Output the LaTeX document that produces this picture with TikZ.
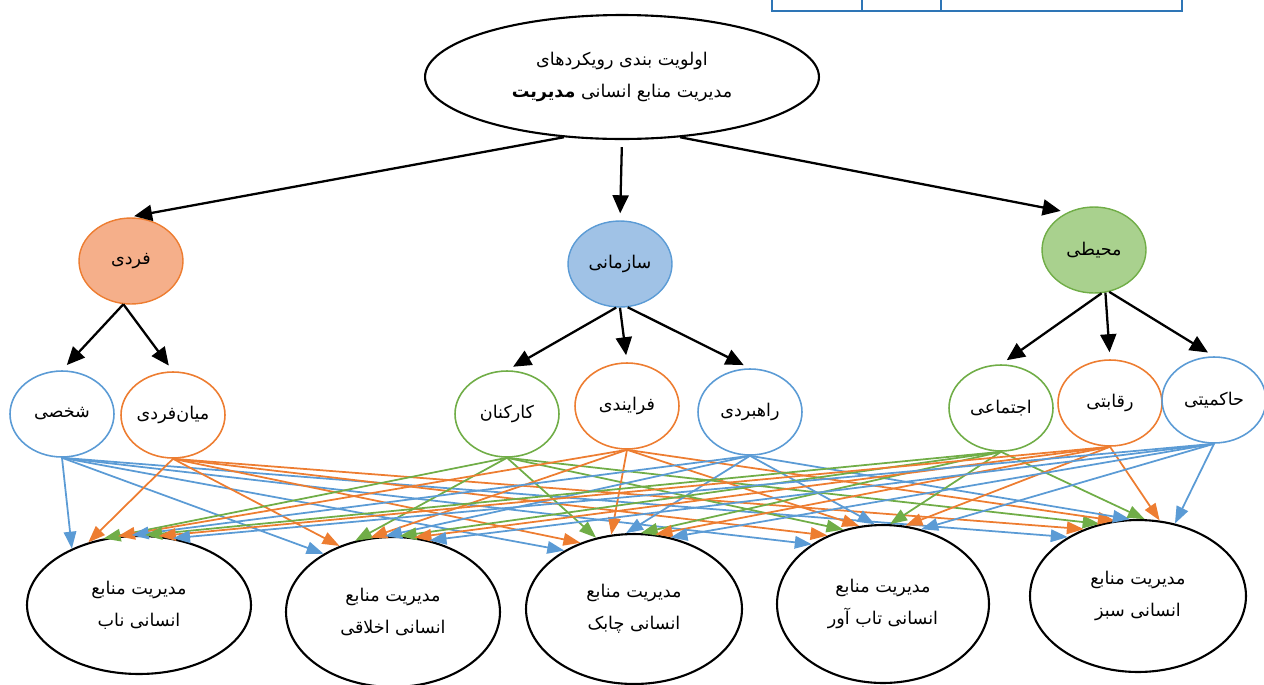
\documentclass[tikz,border=0pt]{standalone}
\usepackage{fontspec}
\newfontfamily\arabicfont[Script=Arabic]{DejaVu Sans}
\TeXXeTstate=1
\usepackage{tikz}
\usetikzlibrary{shapes.geometric,arrows.meta}
\definecolor{blu}{RGB}{91,155,213}
\definecolor{org}{RGB}{237,125,49}
\definecolor{grn}{RGB}{112,173,71}
\definecolor{tblblue}{RGB}{46,117,182}
\definecolor{orgfill}{RGB}{245,175,138}
\definecolor{blufill}{RGB}{160,194,230}
\definecolor{grnfill}{RGB}{169,209,142}
\newcommand{\fatxt}[1]{\beginR#1\endR}

\begin{document}
\begin{tikzpicture}[x=0.02cm, y=-0.02cm, align=center,
    font=\arabicfont\fontsize{10}{18}\selectfont,
    >={Triangle[length=0.36cm,width=0.32cm]},
    topbox/.style={ellipse, draw, line width=1.2pt, inner sep=0pt,
        minimum width=7.88cm, minimum height=2.48cm},
    catbox/.style 2 args={ellipse, draw=#1, fill=#2, line width=0.8pt, inner sep=0pt,
        minimum width=2.08cm, minimum height=1.72cm},
    leafbox/.style={ellipse, draw=#1, line width=0.9pt, inner sep=0pt,
        minimum width=2.08cm, minimum height=1.72cm},
    hrmbox/.style 2 args={ellipse, draw, line width=1.2pt, inner sep=0pt,
        minimum width=#1, minimum height=#2},
    branch/.style={->, line width=1.3pt, shorten >=4pt},
    link/.style={-{Triangle[length=0.34cm,width=0.25cm]}, line width=1pt},
    tbl/.style={draw=tblblue, line width=1.1pt}]
    \useasboundingbox (0,0) rectangle (1264,684);

    \draw[tbl] (772,0) |- (1182,11) -- (1182,0);
    \draw[tbl] (862,0) -- (862,11);
    \draw[tbl] (941,0) -- (941,11);

    \node[topbox] at (622,77) (top)
        {\fatxt{اولویت بندی رویکردهای} \\ \fatxt{مدیریت منابع انسانی {\bfseries مدیریت}}};

    \node[catbox={org}{orgfill}] at (131,261) (fardi) {\fatxt{فردی}};
    \node[catbox={blu}{blufill}] at (620,264) (sazmani) {\fatxt{سازمانی}};
    \node[catbox={grn}{grnfill}] at (1094,250) (mohiti) {\fatxt{محیطی}};

    \node[leafbox=blu] at (62,414) (shakhsi) {\fatxt{شخصی}};
    \node[leafbox=org] at (173,415) (mianfardi) {\fatxt{میان^^^^200cفردی}};
    \node[leafbox=grn] at (507,414) (karkonan) {\fatxt{کارکنان}};
    \node[leafbox=org] at (627,406) (farayandi) {\fatxt{فرایندی}};
    \node[leafbox=blu] at (750,412) (rahbordi) {\fatxt{راهبردی}};
    \node[leafbox=grn] at (1001,408) (ejtemai) {\fatxt{اجتماعی}};
    \node[leafbox=org] at (1110,403) (reqabati) {\fatxt{رقابتی}};
    \node[leafbox=blu] at (1214,400) (hakemiyati) {\fatxt{حاکمیتی}};

    \node[hrmbox={4.48cm}{2.76cm}] at (139,605) (nab)
        {\fatxt{مدیریت منابع} \\ \fatxt{انسانی ناب}};
    \node[hrmbox={4.28cm}{3.0cm}] at (393,612) (akhlaqi)
        {\fatxt{مدیریت منابع} \\ \fatxt{انسانی اخلاقی}};
    \node[hrmbox={4.32cm}{3.0cm}] at (634,609) (chabok)
        {\fatxt{مدیریت منابع} \\ \fatxt{انسانی چابک}};
    \node[hrmbox={4.24cm}{3.16cm}] at (883,604) (tabavar)
        {\fatxt{مدیریت منابع} \\ \fatxt{انسانی تاب آور}};
    \node[hrmbox={4.32cm}{3.04cm}] at (1138,596) (sabz)
        {\fatxt{مدیریت منابع} \\ \fatxt{انسانی سبز}};

    \draw[branch] (top.226) -- (fardi.95);
    \draw[branch, shorten <=4pt] (top.south) -- (sazmani.north);
    \draw[branch] (top.314) -- (mohiti.125);

    \draw[branch] (fardi.-100) -- (shakhsi.north);
    \draw[branch] (fardi.-100) -- (mianfardi.north);
    \draw[branch] (sazmani.-95) -- (karkonan.north);
    \draw[branch] (sazmani.south) -- (farayandi.north);
    \draw[branch] (sazmani.-80) -- (rahbordi.north);
    \draw[branch] (mohiti.-80) -- (ejtemai.north);
    \draw[branch] (mohiti.-75) -- (reqabati.north);
    \draw[branch] (mohiti.-70) -- (hakemiyati.north);

    \foreach \s/\c [count=\i from 0, evaluate=\i as \ang using 140-11*\i] in
        {shakhsi/blu, mianfardi/org, karkonan/grn, farayandi/org,
         rahbordi/blu, ejtemai/grn, reqabati/org, hakemiyati/blu}
        \foreach \t in {nab, akhlaqi, chabok, tabavar, sabz}
            \draw[link, \c] (\s.south) -- (\t.\ang);
\end{tikzpicture}
\end{document}
